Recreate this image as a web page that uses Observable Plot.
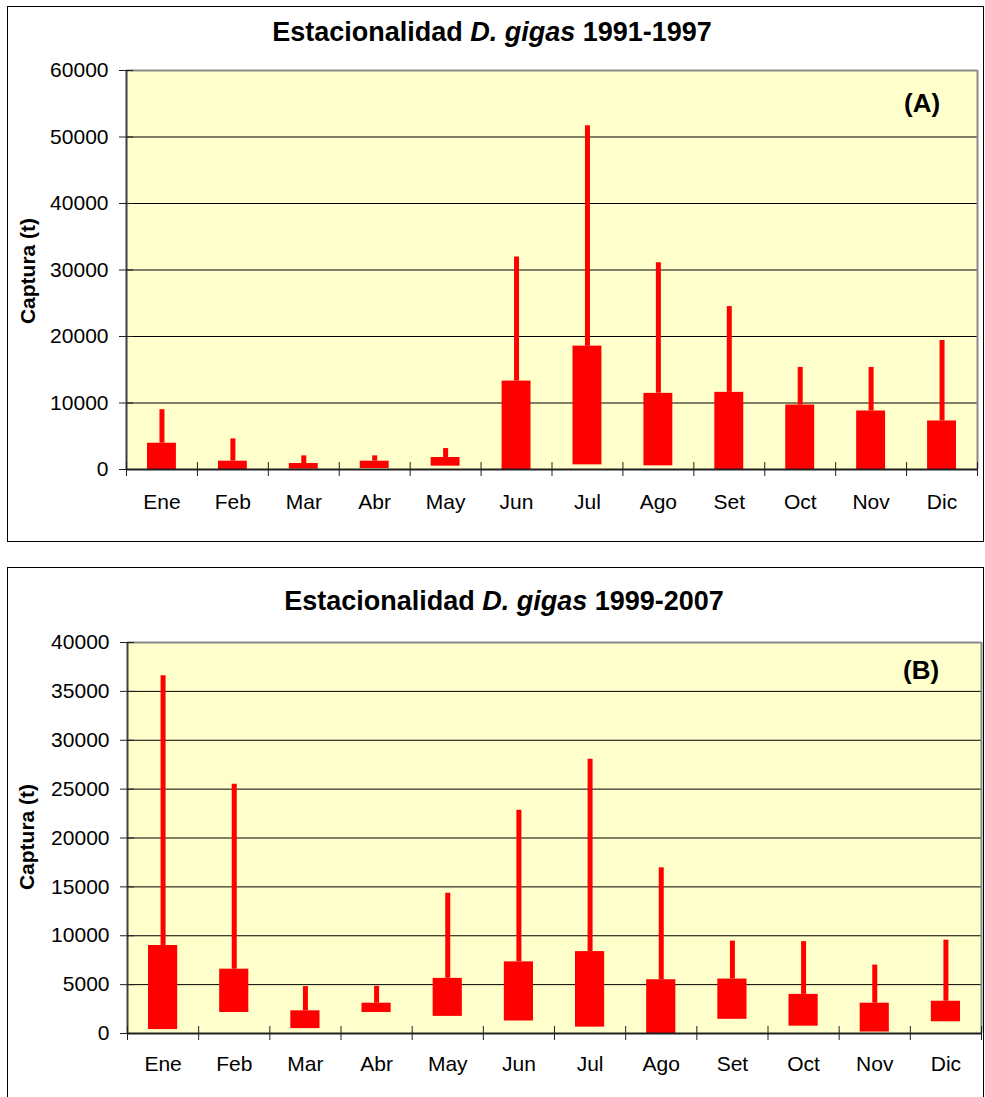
<!DOCTYPE html>
<html>
<head>
<meta charset="utf-8">
<script src="https://cdn.jsdelivr.net/npm/d3@7"></script>
<script src="https://cdn.jsdelivr.net/npm/@observablehq/plot@0.6"></script>
<style>
  html, body { margin: 0; padding: 0; background: #fff; }
  body { width: 985px; height: 1097px; position: relative; overflow: hidden; font-family: "Liberation Sans", Arial, sans-serif; }
  .box { position: absolute; border: 1px solid #000; box-sizing: border-box; }
  .abs { position: absolute; white-space: nowrap; color: #000; }
  .title { font-weight: bold; font-size: 27px; line-height: 27px; transform: translateX(-50%); }
  .tag { font-weight: bold; font-size: 26px; line-height: 26px; }
  .ylab { font-weight: bold; font-size: 21px; line-height: 21px; transform: translate(-50%, -50%) rotate(-90deg); }
  .plotwrap { position: absolute; left: 0; }
</style>
</head>
<body>
<div class="box" style="left:7px; top:6px; width:977px; height:536px;"></div>
<div class="box" style="left:7px; top:567px; width:977px; height:560px;"></div>

<div class="abs title" style="left:492px; top:19px;">Estacionalidad <i>D. gigas</i> 1991-1997</div>
<div class="abs title" style="left:504px; top:588px;">Estacionalidad <i>D. gigas</i> 1999-2007</div>
<div class="abs ylab" style="left:27px; top:271px;">Captura (t)</div>
<div class="abs ylab" style="left:26px; top:837px;">Captura (t)</div>

<div id="pa" class="plotwrap" style="top:0px;"></div>
<div id="pb" class="plotwrap" style="top:560px;"></div>

<div class="abs tag" style="left:904px; top:90px;">(A)</div>
<div class="abs tag" style="left:903px; top:657px;">(B)</div>

<script>
const months = ["Ene","Feb","Mar","Abr","May","Jun","Jul","Ago","Set","Oct","Nov","Dic"];

// Panel A: 1991-1997
const lowA  = [0, 0, 50, 150, 500, 0, 700, 550, 0, 0, 0, 0];
const highA = [3950, 1250, 900, 1250, 1800, 13300, 18550, 11450, 11600, 9700, 8800, 7300];
const maxA  = [9000, 4600, 2050, 2050, 3150, 31950, 51700, 31100, 24500, 15350, 15350, 19400];
const yTicksA = [0, 10000, 20000, 30000, 40000, 50000, 60000];

// Panel B: 1999-2007
const lowB  = [400, 2150, 500, 2150, 1750, 1280, 650, 0, 1450, 750, 150, 1200];
const highB = [9000, 6580, 2320, 3100, 5640, 7330, 8380, 5500, 5570, 4000, 3100, 3300];
const maxB  = [36600, 25500, 4800, 4830, 14350, 22850, 28050, 16950, 9450, 9400, 7000, 9550];
const yTicksB = [0, 5000, 10000, 15000, 20000, 25000, 30000, 35000, 40000];

const bandEdges = d3.range(13);

function build(low, high, max, yTicks, opts) {
  const data = months.map((m, i) => ({m, i, low: low[i], high: high[i], max: max[i]}));
  const ymax = yTicks[yTicks.length - 1];
  return Plot.plot({
    width: 985,
    height: opts.height,
    marginTop: opts.mt,
    marginBottom: opts.mb,
    marginLeft: opts.ml,
    marginRight: opts.mr,
    style: {background: "transparent", overflow: "visible", fontFamily: "'Liberation Sans', Arial, sans-serif", color: "#000"},
    x: {domain: [0, 12], axis: null},
    y: {domain: [0, ymax], axis: null},
    marks: [
      Plot.frame({fill: "#ffffcc", stroke: null}),
      Plot.gridY(yTicks.slice(0, -1), {stroke: "#000", strokeOpacity: 1, strokeWidth: 1}),
      Plot.rectY(data, {x1: "i", x2: d => d.i + 1, y1: "low", y2: "high", fill: "#ff0000", insetLeft: 21, insetRight: 21}),
      Plot.ruleX(data, {x: d => d.i + 0.5, y1: "high", y2: "max", stroke: "#ff0000", strokeWidth: 5}),
      Plot.ruleY([ymax], {stroke: "#8a8a8a", strokeWidth: 2}),
      Plot.ruleX([12], {stroke: "#8a8a8a", strokeWidth: 2}),
      Plot.ruleX([0], {stroke: "#404040", strokeWidth: 2}),
      Plot.ruleY([0], {stroke: "#202020", strokeWidth: 2}),
      Plot.axisY(yTicks, {tickSize: 14, dx: 7, tickFormat: () => "", label: null, stroke: "#202020"}),
      Plot.axisY(yTicks, {tickSize: 0, tickPadding: 18, tickFormat: d => String(d), label: null, fontSize: 21, fill: "#000"}),
      Plot.axisX(bandEdges, {tickSize: 14, dy: -7, tickFormat: () => "", label: null, stroke: "#202020"}),
      Plot.text(data, {x: d => d.i + 0.5, frameAnchor: "bottom", dy: opts.mdy, text: "m", fontSize: 21, fill: "#000"})
    ]
  });
}

document.getElementById("pa").append(build(lowA, highA, maxA, yTicksA, {height: 541, mt: 70, mb: 72, ml: 126, mr: 8, mdy: 39}));
document.getElementById("pb").append(build(lowB, highB, maxB, yTicksB, {height: 537, mt: 82, mb: 64, ml: 127, mr: 4, mdy: 37}));
</script>
</body>
</html>
